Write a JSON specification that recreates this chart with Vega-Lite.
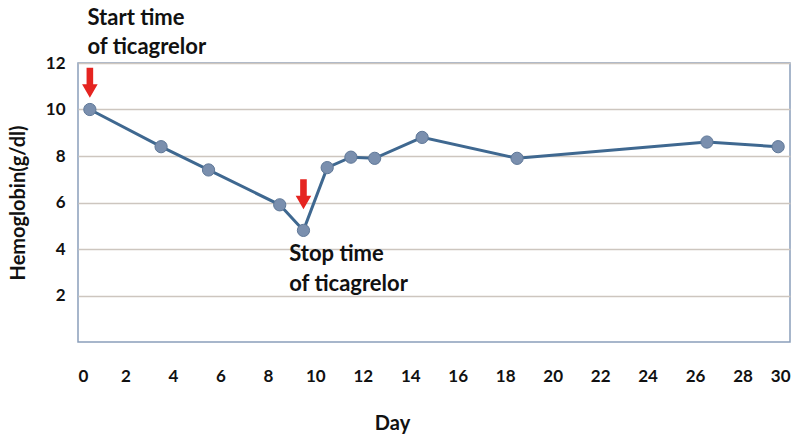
{
  "$schema": "https://vega.github.io/schema/vega-lite/v6.json",
  "autosize": "none",
  "width": 712,
  "height": 279,
  "padding": {"left": 78, "top": 63, "right": 10, "bottom": 97},
  "background": "white",
  "config": {
    "view": {"stroke": "#8a9fba", "strokeWidth": 1.5},
    "font": "Lato"
  },
  "datasets": {
    "hb": [
      {"day": 0.5, "hb": 10.0},
      {"day": 3.5, "hb": 8.4},
      {"day": 5.5, "hb": 7.4},
      {"day": 8.5, "hb": 5.9},
      {"day": 9.5, "hb": 4.8},
      {"day": 10.5, "hb": 7.5},
      {"day": 11.5, "hb": 7.95},
      {"day": 12.5, "hb": 7.9},
      {"day": 14.5, "hb": 8.8},
      {"day": 18.5, "hb": 7.9},
      {"day": 26.5, "hb": 8.6},
      {"day": 29.5, "hb": 8.4}
    ],
    "arrows": [
      {"day": 0.5, "hb": 11.15},
      {"day": 9.5, "hb": 6.35}
    ],
    "notes": [
      {"day": 0.4, "hb": 13.95, "text": "Start time"},
      {"day": 0.4, "hb": 12.7, "text": "of ticagrelor"},
      {"day": 8.9, "hb": 3.8, "text": "Stop time"},
      {"day": 8.9, "hb": 2.5, "text": "of ticagrelor"}
    ]
  },
  "layer": [
    {
      "data": {"name": "hb"},
      "mark": {"type": "line", "color": "#3f6890", "strokeWidth": 3},
      "encoding": {
        "x": {
          "field": "day", "type": "quantitative",
          "scale": {"domain": [0, 30], "nice": false},
          "axis": {
            "title": "Day", "values": [0,2,4,6,8,10,12,14,16,18,20,22,24,26,28,30],
            "grid": false, "ticks": false, "domain": false,
            "labelFont": "Lato", "labelFontSize": 17, "labelFontWeight": "bold", "labelColor": "#111",
            "labelPadding": 26,
            "titleFont": "Lato", "titleFontSize": 20, "titleFontWeight": "bold", "titleColor": "#111",
            "titleX": 314, "titleY": 81, "titleBaseline": "middle"
          }
        },
        "y": {
          "field": "hb", "type": "quantitative",
          "scale": {"domain": [0, 12], "nice": false},
          "axis": {
            "title": "Hemoglobin(g/dl)", "values": [2,4,6,8,10,12],
            "grid": true, "gridColor": "#cdc6bf", "gridWidth": 1.5, "gridOpacity": 1,
            "ticks": false, "domain": false,
            "labelFont": "Lato", "labelFontSize": 17, "labelFontWeight": "bold", "labelColor": "#111",
            "labelPadding": 13,
            "titleFont": "Lato", "titleFontSize": 20, "titleFontWeight": "bold", "titleColor": "#111",
            "titlePadding": 17
          }
        }
      }
    },
    {
      "data": {"name": "hb"},
      "mark": {"type": "point", "filled": true, "size": 150, "color": "#7a8fae", "stroke": "#5f7898", "strokeWidth": 1, "opacity": 1},
      "encoding": {
        "x": {"field": "day", "type": "quantitative"},
        "y": {"field": "hb", "type": "quantitative"}
      }
    },
    {
      "data": {"name": "arrows"},
      "mark": {
        "type": "point", "filled": true, "opacity": 1, "color": "#e52420", "size": 900, "clip": false,
        "shape": "M-0.22,-1 L0.22,-1 L0.22,0.1 L0.52,0.1 L0,1 L-0.52,0.1 L-0.22,0.1 Z"
      },
      "encoding": {
        "x": {"field": "day", "type": "quantitative"},
        "y": {"field": "hb", "type": "quantitative"}
      }
    },
    {
      "data": {"name": "notes"},
      "mark": {"type": "text", "align": "left", "baseline": "middle", "font": "Lato", "fontSize": 22, "fontWeight": "bold", "color": "#111", "clip": false},
      "encoding": {
        "x": {"field": "day", "type": "quantitative"},
        "y": {"field": "hb", "type": "quantitative"},
        "text": {"field": "text"}
      }
    }
  ]
}
